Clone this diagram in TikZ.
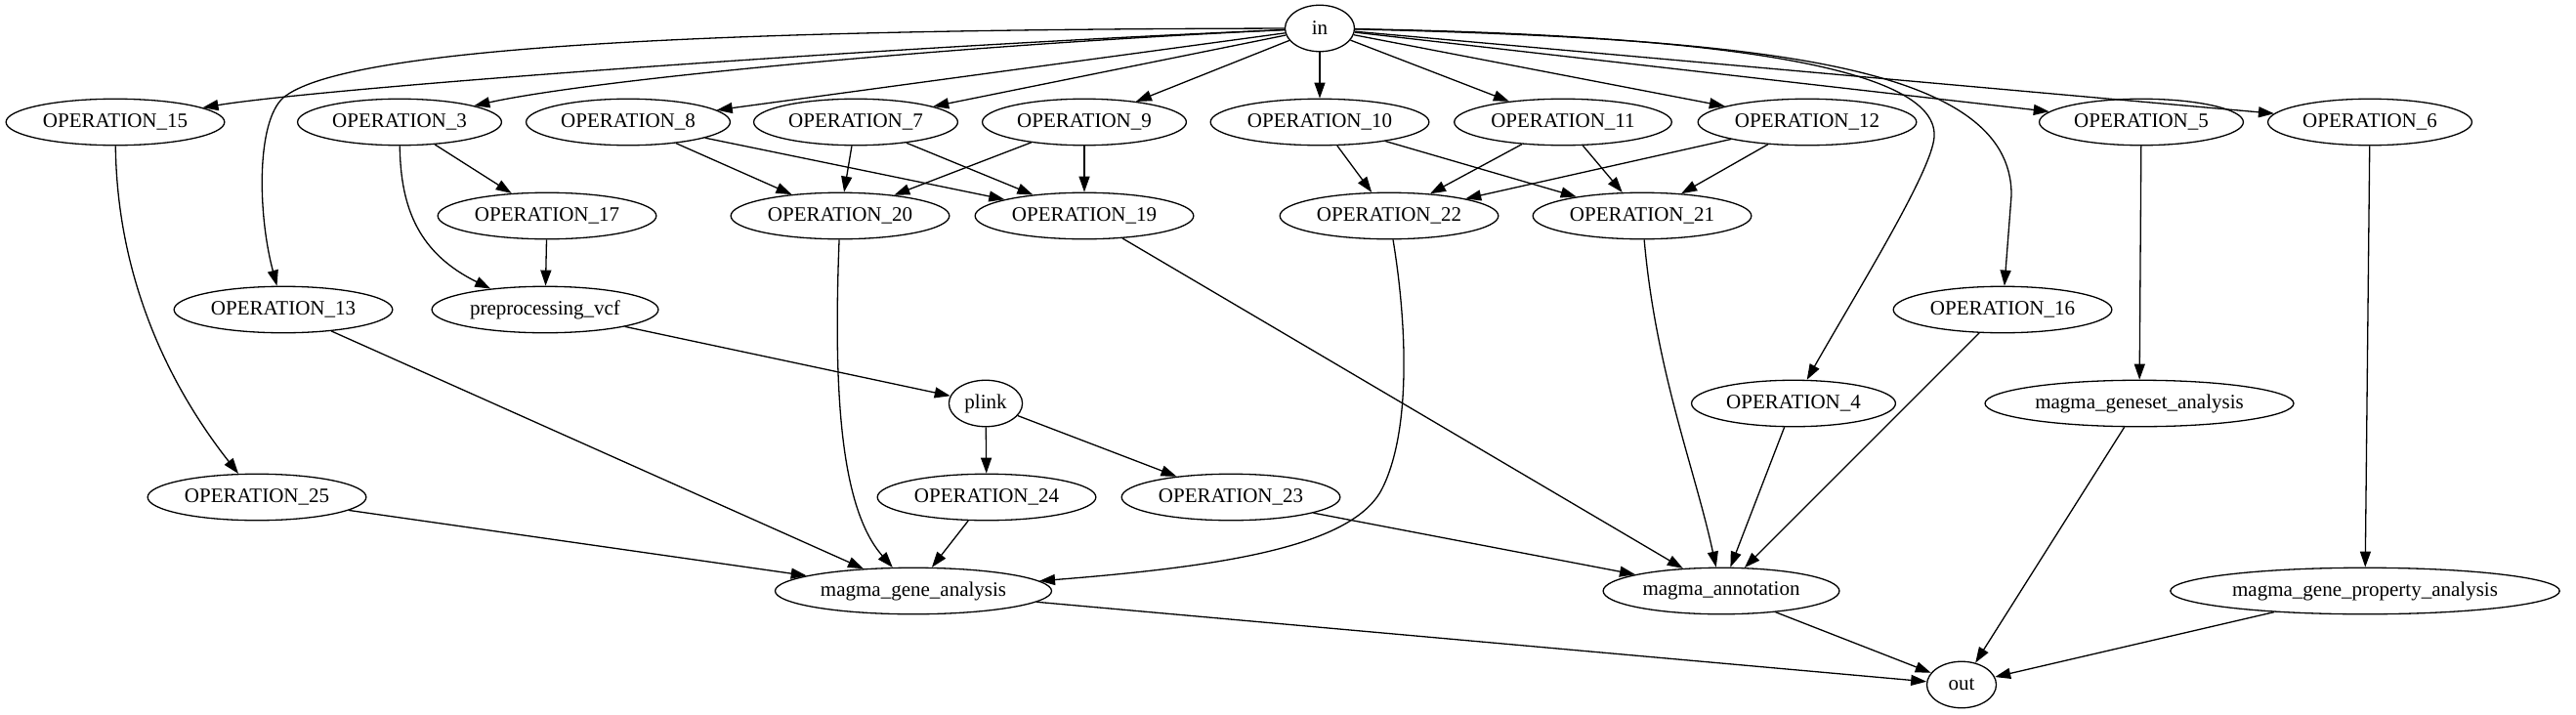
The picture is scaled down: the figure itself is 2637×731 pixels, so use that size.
\documentclass[tikz,border=0pt]{standalone}
\usepackage{fontspec}
\setmainfont{Liberation Serif}
\usetikzlibrary{arrows.meta,shapes.geometric}

\begin{document}
\begin{tikzpicture}[
  x=1pt, y=-1pt,
  op/.style={ellipse, draw, line width=1.3pt, inner xsep=5pt, inner ysep=2pt,
             minimum width=71pt, minimum height=47.5pt,
             font=\fontsize{21}{25}\selectfont},
  arrow/.style={-{Triangle[length=16pt,width=11pt]}, line width=1.3pt}
]
\useasboundingbox (0,0) rectangle (2637,731);

\node[op] (in)   at (1351,29)  {in};
\node[op] (op15) at (118,125)  {OPERATION\_15};
\node[op] (op3)  at (409,125)  {OPERATION\_3};
\node[op] (op8)  at (643,125)  {OPERATION\_8};
\node[op] (op7)  at (876,125)  {OPERATION\_7};
\node[op] (op9)  at (1110,125) {OPERATION\_9};
\node[op] (op10) at (1351,125) {OPERATION\_10};
\node[op] (op11) at (1600,125) {OPERATION\_11};
\node[op] (op12) at (1850,125) {OPERATION\_12};
\node[op] (op5)  at (2192,125) {OPERATION\_5};
\node[op] (op6)  at (2426,125) {OPERATION\_6};
\node[op] (op17) at (560,221)  {OPERATION\_17};
\node[op] (op20) at (860,221)  {OPERATION\_20};
\node[op] (op19) at (1110,221) {OPERATION\_19};
\node[op] (op22) at (1422,221) {OPERATION\_22};
\node[op] (op21) at (1681,221) {OPERATION\_21};
\node[op] (op13) at (290,317)  {OPERATION\_13};
\node[op] (pre)  at (558,317)  {preprocessing\_vcf};
\node[op] (op16) at (2050,317) {OPERATION\_16};
\node[op] (plink) at (1009,413) {plink};
\node[op] (op4)  at (1836,413) {OPERATION\_4};
\node[op] (mgsa) at (2190,413) {magma\_geneset\_analysis};
\node[op] (op25) at (263,509)  {OPERATION\_25};
\node[op] (op24) at (1010,509) {OPERATION\_24};
\node[op] (op23) at (1260,509) {OPERATION\_23};
\node[op] (mga)  at (935,605)  {magma\_gene\_analysis};
\node[op] (mann) at (1762,605) {magma\_annotation};
\node[op] (mgpa) at (2421,605) {magma\_gene\_property\_analysis};
\node[op] (out)  at (2008,701) {out};

\draw[arrow] (in) .. controls (900,48) and (330,90) .. (op15);
\draw[arrow] (in) .. controls (1000,45) and (614,80) .. (op3);
\draw[arrow] (in) -- (op8);
\draw[arrow] (in) -- (op7);
\draw[arrow] (in) -- (op9);
\draw[arrow] (in) -- (op10);
\draw[arrow] (in) -- (op11);
\draw[arrow] (in) -- (op12);
\draw[arrow] (in) -- (op5);
\draw[arrow] (in) -- (op6);
\draw[arrow] (in) .. controls (700,30) and (350,50) .. (290,100)
                  .. controls (262,125) and (264,220) .. (op13);
\draw[arrow] (in) .. controls (1700,35) and (1985,60) .. (1980,140)
                  .. controls (1978,175) and (1900,300) .. (op4);
\draw[arrow] (in) .. controls (1800,40) and (2060,65) .. (2059,200) -- (op16);

\draw[arrow] (op15) .. controls (120,300) and (185,410) .. (op25);
\draw[arrow] (op3) -- (op17);
\draw[arrow] (op3) .. controls (410,215) and (430,260) .. (pre.159);
\draw[arrow] (op17) -- (pre);
\draw[arrow] (op8) -- (op20);
\draw[arrow] (op8) -- (op19);
\draw[arrow] (op7) -- (op20);
\draw[arrow] (op7) -- (op19);
\draw[arrow] (op9) -- (op20);
\draw[arrow] (op9) -- (op19);
\draw[arrow] (op10) -- (op22);
\draw[arrow] (op10) -- (op21);
\draw[arrow] (op11) -- (op22);
\draw[arrow] (op11) -- (op21);
\draw[arrow] (op12) -- (op22);
\draw[arrow] (op12) -- (op21);
\draw[arrow] (op5) -- (mgsa);
\draw[arrow] (op6) -- (mgpa);

\draw[arrow] (op20) .. controls (853,400) and (860,520) .. (mga);
\draw[arrow] (op22) .. controls (1440,330) and (1445,440) .. (1415,500)
                    .. controls (1385,560) and (1250,580) .. (mga);
\draw[arrow] (op19) -- (mann);
\draw[arrow] (op21) .. controls (1695,380) and (1735,480) .. (mann);
\draw[arrow] (op13) -- (mga);
\draw[arrow] (pre) -- (plink);
\draw[arrow] (plink) -- (op24);
\draw[arrow] (plink) -- (op23);
\draw[arrow] (op16) -- (mann);
\draw[arrow] (op4) -- (mann);
\draw[arrow] (op25) -- (mga);
\draw[arrow] (op24) -- (mga);
\draw[arrow] (op23) -- (mann);

\draw[arrow] (mga) -- (out);
\draw[arrow] (mann) -- (out);
\draw[arrow] (mgsa) -- (out);
\draw[arrow] (mgpa) -- (out);
\end{tikzpicture}
\end{document}
